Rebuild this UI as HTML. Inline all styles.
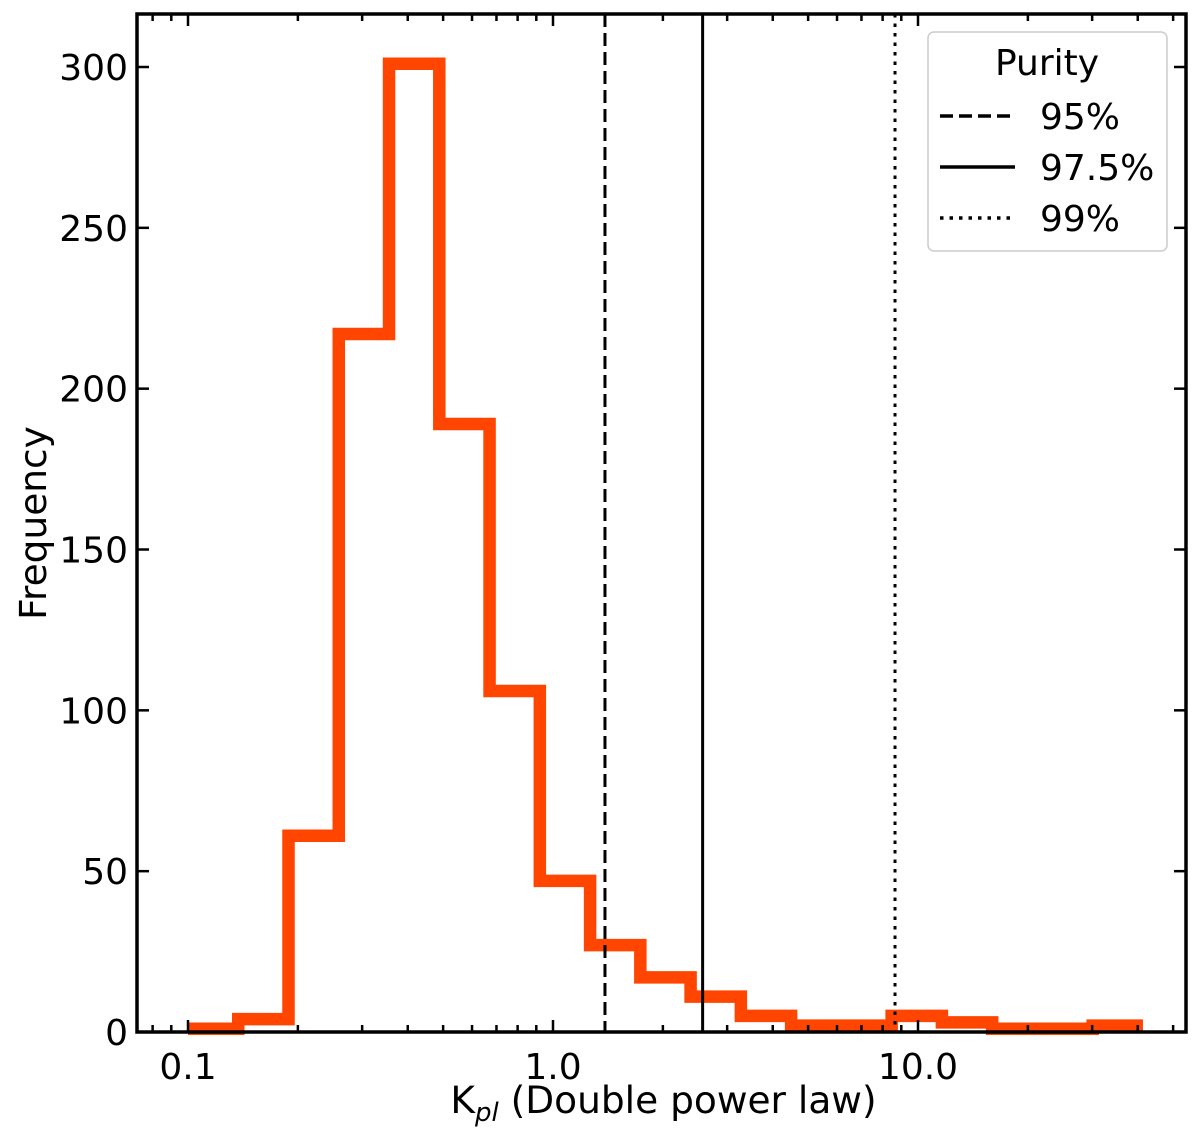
<!DOCTYPE html>
<html><head><meta charset="utf-8"><style>
body{margin:0;background:#fff}
svg{display:block;font-family:"DejaVu Sans","Liberation Sans",sans-serif}
</style></head><body>
<svg id="chart" width="1200" height="1142">
<g id="grid"></g>
<g id="marks"></g>
<g id="axes"></g>
<g id="legend">
<rect x="928" y="32" width="239" height="219" rx="6" fill="#fff" fill-opacity="0.8" stroke="#ccc" stroke-width="1.5"/>
<text x="1047" y="75" font-size="36" text-anchor="middle">Purity</text>
<line x1="940" y1="116" x2="1015" y2="116" stroke="#000" stroke-width="3.5" stroke-dasharray="13,6"/>
<text x="1040" y="129" font-size="36">95%</text>
<line x1="940" y1="167" x2="1015" y2="167" stroke="#000" stroke-width="3.5"/>
<text x="1040" y="180" font-size="36">97.5%</text>
<line x1="940" y1="218" x2="1015" y2="218" stroke="#000" stroke-width="3.5" stroke-dasharray="3.5,6"/>
<text x="1040" y="231" font-size="36">99%</text>
</g>
</svg>
<script>
const binStartLog = -1;
const binWidthLog = 0.1377;
const counts = [1, 4, 61, 217, 301, 189, 106, 47, 27, 17, 11, 5, 2, 2, 5, 3, 1, 1, 2];
const thresholds = [1.388, 2.57, 8.65];
const thresholdNames = ['threshold-95', 'threshold-97-5', 'threshold-99'];
const yTicks = [0, 50, 100, 150, 200, 250, 300];
const xTickLabels = ['0.1', '1.0', '10.0'];
const xTickValues = [0.1, 1, 10];

const L = 137, R = 1186, T = 14, B = 1032;
const x = v => 553 + 365 * Math.log10(v);
const y = v => 1032 - (1032 - 67) / 300 * v;
const NS = 'http://www.w3.org/2000/svg';
function mk(tag, attrs, parent) {
  const e = document.createElementNS(NS, tag);
  for (const k in attrs) e.setAttribute(k, attrs[k]);
  parent.appendChild(e);
  return e;
}
const marks = document.getElementById('marks');
const axes = document.getElementById('axes');

let d = '';
counts.forEach((c, i) => {
  const x0 = x(Math.pow(10, binStartLog + i * binWidthLog));
  const x1 = x(Math.pow(10, binStartLog + (i + 1) * binWidthLog));
  d += (i === 0 ? 'M' : 'L') + x0 + ',' + y(c) + 'L' + x1 + ',' + y(c);
});
const step = mk('path', {d: d, fill: 'none', stroke: '#ff4500', 'stroke-width': 12.5, 'stroke-linejoin': 'miter'}, marks);



const dashes = ['13,6', 'none', '3.5,6'];
thresholds.forEach((t, i) => {
  const ln = mk('line', {x1: x(t), x2: x(t), y1: T, y2: B, stroke: '#000', 'stroke-width': 3, 'stroke-dasharray': dashes[i]}, marks);
  
  
});

const fr = mk('rect', {x: L, y: T, width: R - L, height: B - T, fill: 'none', stroke: '#000', 'stroke-width': 3.5}, axes);



yTicks.forEach(v => {
  const yy = y(v);
  mk('line', {x1: L, x2: L + 12, y1: yy, y2: yy, stroke: '#000', 'stroke-width': 2.5}, axes);
  mk('line', {x1: R, x2: R - 12, y1: yy, y2: yy, stroke: '#000', 'stroke-width': 2.5}, axes);
  const t = mk('text', {x: L - 9, y: yy + 13, 'font-size': 36, 'text-anchor': 'end'}, axes);
  t.textContent = v;
  
  
});

for (let e = -2; e <= 2; e++) {
  for (let m = 1; m <= 9; m++) {
    const v = m * Math.pow(10, e);
    const xx = x(v);
    if (xx < L + 2 || xx > R - 2) continue;
    const len = m === 1 ? 12 : 7;
    mk('line', {x1: xx, x2: xx, y1: B, y2: B - len, stroke: '#000', 'stroke-width': 2.5}, axes);
    mk('line', {x1: xx, x2: xx, y1: T, y2: T + len, stroke: '#000', 'stroke-width': 2.5}, axes);
  }
}
xTickValues.forEach((v, i) => {
  const t = mk('text', {x: x(v), y: B + 47, 'font-size': 36, 'text-anchor': 'middle'}, axes);
  t.textContent = xTickLabels[i];
  
  
});

const xt = mk('text', {x: (L + R) / 2 + 2, y: 1113, 'font-size': 37.5, 'text-anchor': 'middle'}, axes);
xt.innerHTML = 'K<tspan font-size="26" font-style="italic" dy="8">pl</tspan><tspan dy="-8"> (Double power law)</tspan>';



const yt = mk('text', {x: 0, y: 0, 'font-size': 37.5, 'text-anchor': 'middle', transform: 'translate(46,' + (T + B) / 2 + ') rotate(-90)'}, axes);
yt.textContent = 'Frequency';


</script>
</body></html>
